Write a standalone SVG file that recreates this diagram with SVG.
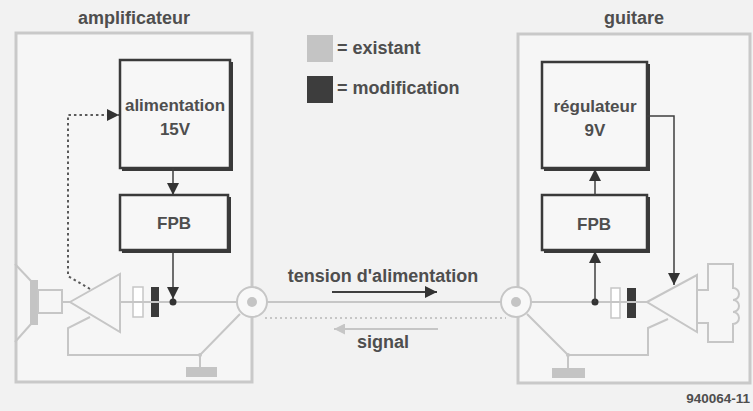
<svg xmlns="http://www.w3.org/2000/svg" width="753" height="411" viewBox="0 0 753 411">
  <style>
    text { font-family: "Liberation Sans", Arial, sans-serif; font-weight: bold; fill: #4e4e4e; }
    .title { font-size: 18px; }
    .lbl { font-size: 17px; }
    .frame { fill: #f6f6f6; stroke: #c9c9c9; stroke-width: 3; }
    .blk { fill: #f7f7f7; stroke: #3a3a3a; stroke-width: 2.5; }
    .shadow { fill: none; stroke: #3a3a3a; stroke-width: 2; }
    .wire { fill: none; stroke: #c6c6c6; stroke-width: 2; }
    .dark { fill: none; stroke: #3f3f3f; stroke-width: 1.5; }
    .dot-dark { fill: none; stroke: #5a5a5a; stroke-width: 2; stroke-dasharray: 2.5 3; }
    .dot-light { fill: none; stroke: #c6c6c6; stroke-width: 2; stroke-dasharray: 2 3; }
  </style>
  <defs>
    <marker id="ah" viewBox="0 0 10 10" refX="10" refY="5" markerWidth="12" markerHeight="13" markerUnits="userSpaceOnUse" orient="auto">
      <path d="M0,0 L10,5 L0,10 z" fill="#333"/>
    </marker>
    <marker id="ah-light" viewBox="0 0 10 10" refX="10" refY="5" markerWidth="11" markerHeight="11" markerUnits="userSpaceOnUse" orient="auto">
      <path d="M0,0 L10,5 L0,10 z" fill="#c6c6c6"/>
    </marker>
  </defs>

  <rect x="0" y="0" width="753" height="411" fill="#f2f2f2"/>

  <!-- enclosures -->
  <g id="amplificateur">
    <rect class="frame" x="16" y="33" width="236" height="349"/>
    <text class="title" x="134" y="24" text-anchor="middle">amplificateur</text>
  </g>
  <g id="guitare">
    <rect class="frame" x="518" y="34" width="232" height="349"/>
    <text class="title" x="634" y="24" text-anchor="middle">guitare</text>
  </g>

  <!-- legend -->
  <g id="legende">
    <rect x="307" y="35" width="26" height="27" fill="#c4c4c4"/>
    <text class="title" x="337" y="54">= existant</text>
    <rect x="307" y="76" width="26" height="27" fill="#3d3d3d"/>
    <text class="title" x="337" y="94">= modification</text>
  </g>

  <!-- amplifier side: blocks -->
  <g id="alimentation">
    <polyline class="shadow" points="232,62 232,170 122,170"/>
    <rect class="blk" x="120" y="60" width="110" height="108"/>
    <text class="lbl" x="175" y="111" text-anchor="middle">alimentation</text>
    <text class="lbl" x="175" y="135" text-anchor="middle">15V</text>
  </g>
  <g id="fpb-ampli">
    <polyline class="shadow" points="230,197 230,252 122,252"/>
    <rect class="blk" x="120" y="195" width="108" height="55"/>
    <text class="lbl" x="174" y="229" text-anchor="middle">FPB</text>
  </g>

  <!-- guitar side: blocks -->
  <g id="regulateur">
    <polyline class="shadow" points="649,64 649,170 544,170"/>
    <rect class="blk" x="542" y="62" width="105" height="106"/>
    <text class="lbl" x="595" y="112" text-anchor="middle">régulateur</text>
    <text class="lbl" x="595" y="136" text-anchor="middle">9V</text>
  </g>
  <g id="fpb-guitare">
    <polyline class="shadow" points="649,197 649,252 544,252"/>
    <rect class="blk" x="542" y="195" width="105" height="55"/>
    <text class="lbl" x="594" y="230" text-anchor="middle">FPB</text>
  </g>

  <!-- amplifier side: existing circuit -->
  <g id="haut-parleur">
    <polyline class="wire" points="15,264 31,281"/>
    <polyline class="wire" points="31,324 15,342"/>
    <rect x="30" y="280" width="8" height="45" fill="#c4c4c4"/>
    <rect class="wire" x="38" y="290" width="24" height="23"/>
    <line class="wire" x1="62" y1="302" x2="70" y2="302"/>
  </g>
  <g id="ampli-sortie">
    <polygon class="wire" points="70,302 120,274 120,332" fill="#f6f6f6"/>
  </g>
  <g id="condensateurs-ampli">
    <rect x="133" y="287" width="10" height="30" fill="#ffffff" stroke="#c6c6c6" stroke-width="1.5"/>
    <rect x="151" y="287" width="8" height="30" fill="#3a3a3a"/>
  </g>
  <g id="masse-ampli">
    <rect x="186" y="367" width="31" height="10" fill="#c4c4c4"/>
  </g>

  <!-- guitar side: existing circuit -->
  <g id="preampli">
    <polygon class="wire" points="647,302 697,275 697,332" fill="#f6f6f6"/>
  </g>
  <g id="micro">
    <path class="wire" d="M697,290 H708 V264 H733 V288 a6,6 0 0 1 0,12 a6,6 0 0 1 0,12 a6,6 0 0 1 0,12 V342 H708 V323 H697"/>
  </g>
  <g id="condensateurs-guitare">
    <rect x="611" y="288" width="9" height="30" fill="#ffffff" stroke="#c6c6c6" stroke-width="1.5"/>
    <rect x="627" y="288" width="9" height="30" fill="#3a3a3a"/>
  </g>
  <g id="masse-guitare">
    <rect x="552" y="368" width="33" height="10" fill="#c4c4c4"/>
  </g>

  <!-- connections -->
  <g id="liaisons">
    <!-- amplifier signal path and ground -->
    <line class="wire" x1="120" y1="302" x2="238" y2="302"/>
    <polyline class="wire" points="240,314 200,355 68,355 68,328 90,317"/>
    <line class="wire" x1="200" y1="355" x2="200" y2="367"/>
    <circle cx="200" cy="355" r="2" fill="#c6c6c6"/>

    <!-- cable between the two jacks -->
    <line class="wire" x1="266" y1="302" x2="501" y2="302"/>
    <line class="dot-light" x1="265" y1="318" x2="506" y2="318"/>

    <!-- guitar signal path and ground -->
    <line class="wire" x1="531" y1="302" x2="647" y2="302"/>
    <polyline class="wire" points="527,314 568,355 648,355 648,328 668,319"/>
    <line class="wire" x1="568" y1="355" x2="568" y2="368"/>
    <circle cx="568" cy="355" r="2" fill="#c6c6c6"/>

    <!-- jacks -->
    <circle cx="252" cy="302" r="15" fill="#f8f8f8" stroke="#c6c6c6" stroke-width="2"/>
    <circle cx="252" cy="302" r="5" fill="#c4c4c4"/>
    <circle cx="516" cy="302" r="15" fill="#f8f8f8" stroke="#c6c6c6" stroke-width="2"/>
    <circle cx="516" cy="302" r="5" fill="#c4c4c4"/>

    <!-- amplifier supply routing -->
    <line class="dark" x1="173" y1="168" x2="173" y2="195" marker-end="url(#ah)"/>
    <line class="dark" x1="173" y1="250" x2="173" y2="299" marker-end="url(#ah)"/>
    <circle cx="173" cy="302" r="3.5" fill="#333"/>
    <polyline class="dot-dark" points="90,289 68,276 68,115 119,115" marker-end="url(#ah)"/>

    <!-- guitar supply routing -->
    <circle cx="595" cy="302" r="3.5" fill="#333"/>
    <line class="dark" x1="595" y1="302" x2="595" y2="251" marker-end="url(#ah)"/>
    <line class="dark" x1="595" y1="195" x2="595" y2="169" marker-end="url(#ah)"/>
    <polyline class="dark" points="647,116 674,116 674,285" marker-end="url(#ah)"/>

    <!-- direction arrows -->
    <line x1="332" y1="292" x2="437" y2="292" stroke="#3f3f3f" stroke-width="2" marker-end="url(#ah)"/>
    <line x1="438" y1="329" x2="334" y2="329" stroke="#c6c6c6" stroke-width="2" marker-end="url(#ah-light)"/>
    <text class="title" x="383" y="282" text-anchor="middle">tension d'alimentation</text>
    <text class="title" x="383" y="348" text-anchor="middle">signal</text>
  </g>

  <text x="750" y="403" text-anchor="end" font-size="13.5">940064-11</text>
</svg>
